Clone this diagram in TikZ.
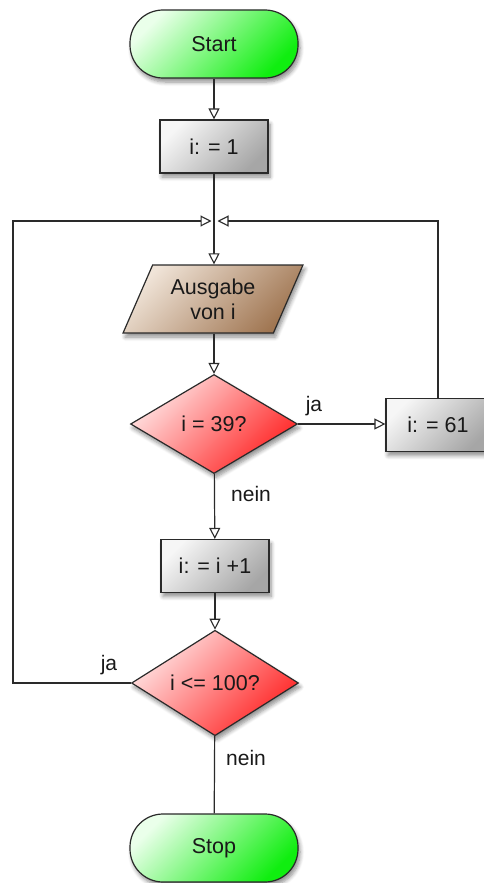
\documentclass[tikz,border=0pt]{standalone}
\usepackage{fontspec}
\setmainfont{Liberation Sans}
\usetikzlibrary{shapes.geometric,arrows.meta,shadows.blur}
\definecolor{glight}{HTML}{EAFFEA}
\definecolor{gdark}{HTML}{10EE10}
\definecolor{klight}{HTML}{F6F6F6}
\definecolor{kdark}{HTML}{A6A6A6}
\definecolor{blight}{HTML}{F0E4D8}
\definecolor{bdark}{HTML}{A07652}
\definecolor{rlight}{HTML}{FFE4E4}
\definecolor{rdark}{HTML}{FF2424}
\definecolor{linec}{HTML}{2A2A2A}
\tikzset{
  base/.style={draw=linec, line width=1.2pt, text=black!90, font=\fontsize{21.5}{25}\selectfont,
    inner sep=0pt, blur shadow={shadow xshift=2pt, shadow yshift=-4pt, shadow opacity=45, shadow blur steps=6, shadow blur radius=4pt}},
  term/.style={base, rectangle, rounded corners=33pt, minimum width=168pt, minimum height=68pt,
    shading=axis, top color=glight, bottom color=gdark, shading angle=45},
  proc/.style={base, rectangle, minimum width=108pt, minimum height=53pt,
    shading=axis, top color=klight, bottom color=kdark, shading angle=45},
  io/.style={base, trapezium, trapezium left angle=63, trapezium right angle=117, trapezium stretches=true,
    minimum width=180pt, minimum height=68pt, align=center,
    shading=axis, top color=blight, bottom color=bdark, shading angle=45},
  decide/.style={base, diamond, minimum width=167pt, minimum height=99pt,
    shading=axis, top color=rlight, bottom color=rdark, shading angle=45},
  lbl/.style={font=\fontsize{21}{24}\selectfont, text=black!90, inner sep=0pt},
  conn/.style={draw=linec, line width=1.2pt},
  arr/.style={conn, -{Triangle[length=11pt, width=11pt, fill=white, line width=1.1pt]}}
}
\begin{document}
\begin{tikzpicture}[x=1pt, y=-1pt]
\useasboundingbox (0,0) rectangle (484,883);
\node[term] (start) at (214,44) {Start};
\node[proc] (b1) at (214,146.5) {i: = 1};
\coordinate (m) at (214,221);
\coordinate (lc) at (13,221);
\node[io] (aus) at (213,299) {Ausgabe\\von i};
\node[decide] (d1) at (214,424) {i = 39?};
\node[proc, minimum width=104pt] (b61) at (438,425) {i: = 61};
\node[proc] (b2) at (215,566) {i: = i +1};
\node[decide] (d2) at (215,683) {i <= 100?};
\node[term] (stop) at (214,848) {Stop};
\node[lbl] (ja1) at (314,406) {ja};
\node[lbl] (nein1) at (251,494) {nein};
\node[lbl] (ja2) at (109,665) {ja};
\node[lbl] (nein2) at (246,758) {nein};
\draw[arr] (start) -- (b1);
\draw[conn] (b1) -- (m);
\draw[arr] (m) -- (aus.north -| m);
\draw[arr] (aus.south -| m) -- (d1);
\draw[arr] (d1.east) -- (d1.east -| b61.west);
\draw[arr] (b61.north) |- ([xshift=3.5pt]m);
\draw[arr] (d1) -- (b2);
\draw[arr] (b2) -- (d2);
\draw[arr] (d2.west) -| (lc) -- ([xshift=-2.5pt]m);
\draw[conn] (d2) -- (stop);
\end{tikzpicture}
\end{document}
